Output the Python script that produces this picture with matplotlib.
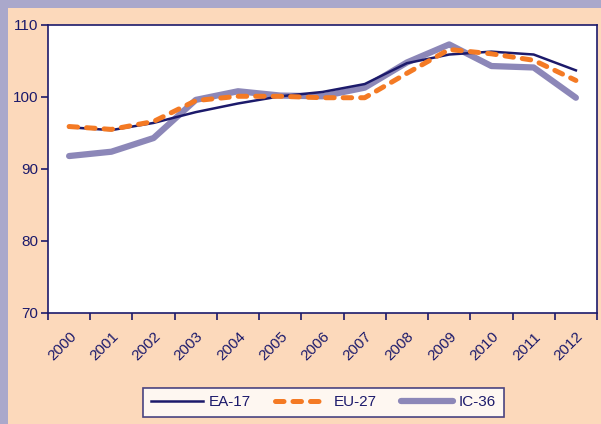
import matplotlib
matplotlib.use("Agg")
import matplotlib.pyplot as plt
from matplotlib.patches import Rectangle

plt.rcParams['font.family'] = ['Liberation Sans', 'DejaVu Sans']

years = [str(y) for y in range(2000, 2013)]
ea17 = [95.8, 95.4, 96.4, 97.9, 99.1, 100.1, 100.7, 101.8, 104.7, 105.9, 106.3, 105.9, 103.7]
eu27 = [95.9, 95.5, 96.6, 99.5, 100.1, 100.1, 99.9, 99.9, 103.3, 106.6, 106.0, 105.1, 102.3]
ic36 = [91.8, 92.4, 94.3, 99.6, 100.8, 100.2, 100.1, 101.3, 104.8, 107.3, 104.3, 104.1, 99.9]

navy = '#1c1a6b'
orange = '#f47a24'
lilac = '#8c87b8'
peach = '#fcd9bb'
border = '#aaa8cb'

fig = plt.figure(figsize=(6.01, 4.24), dpi=100)
fig.patch.set_facecolor(peach)
# purple frame on the left and top
fig.patches.append(Rectangle((0, 0), 8 / 601, 1, transform=fig.transFigure,
                             facecolor=border, edgecolor='none', zorder=0))
fig.patches.append(Rectangle((0, 1 - 8 / 424), 1, 8 / 424, transform=fig.transFigure,
                             facecolor=border, edgecolor='none', zorder=0))

ax = fig.add_axes([48 / 601, 111 / 424, 549 / 601, 288 / 424])
ax.set_facecolor('white')

x = list(range(len(years)))
ax.plot(x, ea17, color=navy, lw=1.8, label='EA-17', zorder=3)
ax.plot(x, eu27, color=orange, lw=3.6, dashes=(1.7, 1.8), dash_capstyle='round',
        label='EU-27', zorder=4)
ax.plot(x, ic36, color=lilac, lw=4.5, solid_capstyle='round', label='IC-36', zorder=2)

ax.set_ylim(70, 110)
ax.set_yticks([70, 80, 90, 100, 110])
ax.set_xlim(-0.5, len(years) - 0.5)
ax.set_xticks(x)
ax.set_xticklabels(years, rotation=45, ha='right', va='top', rotation_mode='anchor')
ax.set_xticks([i - 0.5 for i in range(len(years) + 1)], minor=True)
ax.tick_params(axis='x', which='major', length=0, pad=12, labelsize=11, labelcolor=navy)
ax.tick_params(axis='x', which='minor', length=5, width=1.2, color=navy, direction='out')
ax.tick_params(axis='y', length=5, width=1.2, color=navy, labelsize=11, labelcolor=navy, pad=2)

for s in ax.spines.values():
    s.set_color(navy)
    s.set_linewidth(1.2)

leg = fig.legend(loc='center', bbox_to_anchor=(323.5 / 601, 1 - 402.5 / 424), ncol=3,
                 frameon=True, fancybox=False, fontsize=11, handlelength=3.4,
                 columnspacing=1.6, borderpad=0.5, handletextpad=0.4, borderaxespad=0)
leg.get_frame().set_edgecolor(navy)
leg.get_frame().set_linewidth(1.2)
for t in leg.get_texts():
    t.set_color(navy)

plt.savefig('out.png', dpi=100, facecolor=fig.get_facecolor())
plt.close()
